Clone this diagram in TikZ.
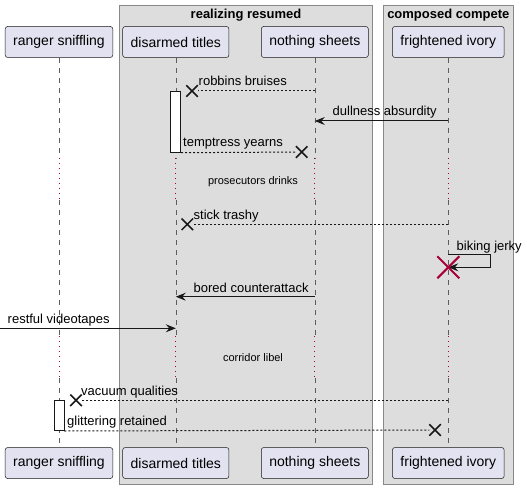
\documentclass[tikz,border=0pt]{standalone}
\usepackage{fontspec}
\setmainfont{Liberation Sans}[Ligatures=NoCommon]
\usepackage{tikz}
\usetikzlibrary{arrows.meta}
\usetikzlibrary{shapes.misc}
\definecolor{pfill}{HTML}{E2E2F0}
\definecolor{pline}{HTML}{181818}
\definecolor{gfill}{HTML}{DDDDDD}
\definecolor{gline}{HTML}{888888}
\definecolor{mred}{HTML}{A80036}
\tikzset{participant/.style = {draw=pline, fill=pfill, rounded corners=2.5pt, line width=0.5pt,
                               minimum height=31pt, inner xsep=8pt, font=\fontsize{14}{16}\selectfont},
         group/.style = {draw=gline, fill=gfill, line width=1pt},
         grouptitle/.style = {font=\fontsize{13}{15}\selectfont\bfseries, anchor=base, inner sep=0pt},
         lifeline/.style = {draw=pline!70, line width=0.5pt, dash pattern=on 5pt off 5pt},
         delayline/.style = {draw=mred, line width=0.7pt, dash pattern=on 1pt off 4pt},
         msg/.style = {draw=pline, line width=1pt, -{Stealth[length=10pt, width=8pt, inset=3.5pt]}},
         reply/.style = {draw=pline, line width=1pt, dash pattern=on 2pt off 2pt},
         msgtext/.style = {font=\fontsize{13}{15}\selectfont, anchor=base west, inner sep=0pt},
         delaytext/.style = {font=\fontsize{11}{13}\selectfont, anchor=base, inner sep=0pt},
         act/.style = {draw=pline, fill=white, line width=0.7pt, minimum width=10pt, inner sep=0pt},
         lost/.style = {draw=pline, cross out, line width=1.5pt, minimum size=10pt, inner sep=0pt},
         destroy/.style = {draw=mred, cross out, line width=2pt, minimum size=20pt, inner sep=0pt}}

\begin{document}
\begin{tikzpicture}[x=1pt, y=-1pt]
      \useasboundingbox (0, 0) rectangle (527, 489);

      % boxes
      \draw [group] (119.3, 6) rectangle (372.7, 484);
      \draw [group] (383.3, 6) rectangle (513.3, 484);
      \node [grouptitle] (realizing) at (246, 18.5) {realizing resumed};
      \node [grouptitle] (composed) at (448.3, 18.5) {composed compete};

      % participants
      \node [participant] (ranger) at (59, 42) {ranger sniffling};
      \node [participant] (titles) at (175.8, 42) {disarmed titles};
      \node [participant] (sheets) at (314.8, 42) {nothing sheets};
      \node [participant] (ivory) at (448.3, 42) {frightened ivory};
      \node [participant] (ranger-b) at (59, 463) {ranger sniffling};
      \node [participant] (titles-b) at (175.8, 463) {disarmed titles};
      \node [participant] (sheets-b) at (314.8, 463) {nothing sheets};
      \node [participant] (ivory-b) at (448.3, 463) {frightened ivory};

      \foreach \p in {ranger, titles, sheets, ivory} {
        \draw [lifeline] (\p.south) -- (\p.south |- 0, 158);
        \draw [delayline] (\p.south |- 0, 158) -- (\p.south |- 0, 200);
        \draw [lifeline] (\p.south |- 0, 200) -- (\p.south |- 0, 336);
        \draw [delayline] (\p.south |- 0, 336) -- (\p.south |- 0, 378);
        \draw [lifeline] (\p.south |- 0, 378) -- (\p-b.north);
      }

      % messages
      \node [lost] (x1) at (192, 91) {};
      \draw [reply] (sheets |- x1) -- (x1);
      \node [msgtext] (t1) at (198.5, 86) {robbins bruises};

      \node [act, minimum height=61pt, anchor=north] (act1) at (titles |- x1) {};

      \coordinate (r2) at (0, 121);
      \draw [msg] (ivory |- r2) -- (sheets |- r2);
      \node [msgtext] (t2) at (332.5, 116) {dullness absurdity};

      \node [lost] (x3) at (301.7, 152) {};
      \draw [reply] (act1.south east) -- (x3);
      \node [msgtext] (t3) at (183, 147) {temptress yearns};

      \node [delaytext] (d1) at (253, 185) {prosecutors drinks};

      \node [lost] (x5) at (187.3, 224.3) {};
      \draw [reply] (ivory |- x5) -- (x5);
      \node [msgtext] (t5) at (193.5, 219.5) {stick trashy};

      \coordinate (r6a) at (0, 254.7);
      \coordinate (r6b) at (0, 267.3);
      \draw [msg] (ivory |- r6a) -- ++(42, 0) |- (ivory |- r6b);
      \node [destroy] (x6) at (ivory |- r6b) {};
      \node [msgtext] (t6) at (456.5, 250) {biking jerky};

      \coordinate (r7) at (0, 296.7);
      \draw [msg] (sheets |- r7) -- (titles |- r7);
      \node [msgtext] (t7) at (193.5, 292) {bored counterattack};

      \coordinate (r8) at (0, 328.3);
      \draw [msg] (r8) -- (titles |- r8);
      \node [msgtext] (t8) at (7.5, 323) {restful videotapes};

      \node [delaytext] (d2) at (253, 361.5) {corridor libel};

      \node [lost] (x10) at (76, 400.3) {};
      \draw [reply] (ivory |- x10) -- (x10);
      \node [msgtext] (t10) at (81, 395.5) {vacuum qualities};

      \node [act, minimum height=30pt, anchor=north] (act2) at (ranger |- x10) {};

      \node [lost] (x11) at (435, 430) {};
      \draw [reply] (act2.south east) -- (x11);
      \node [msgtext] (t11) at (67, 425.5) {glittering retained};
\end{tikzpicture}
\end{document}
